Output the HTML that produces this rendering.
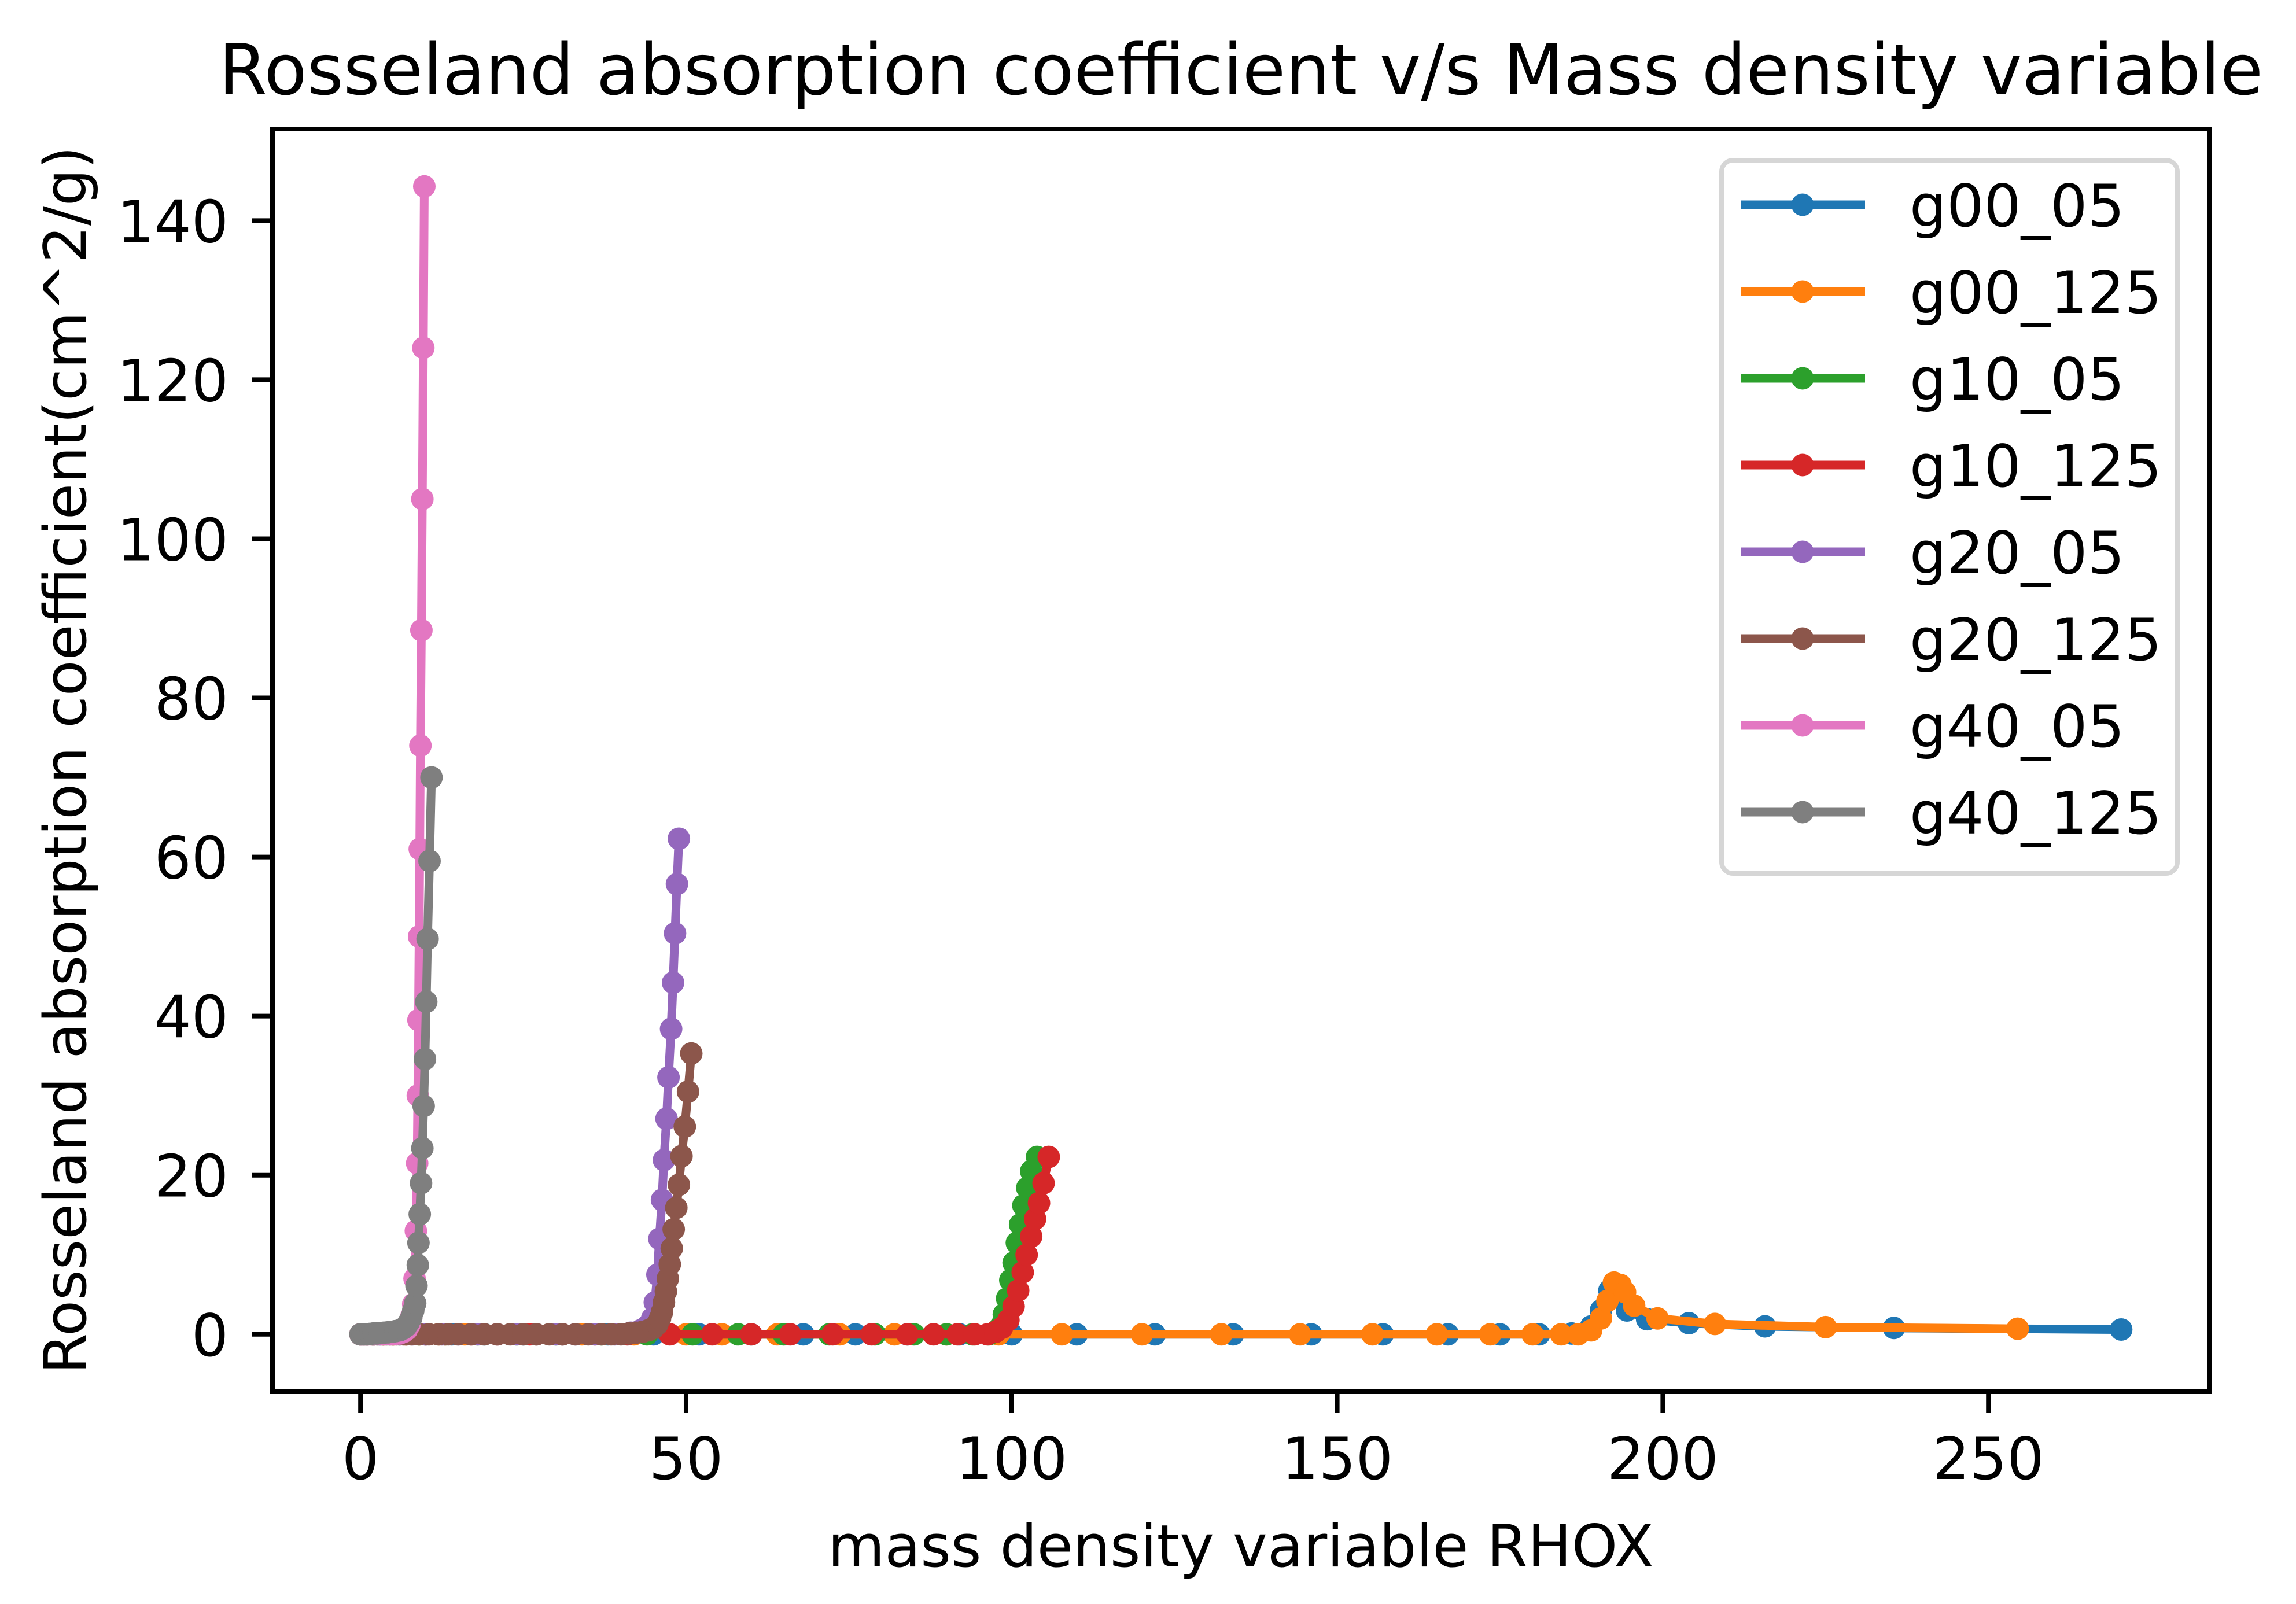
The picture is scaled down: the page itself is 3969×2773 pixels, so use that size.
<!DOCTYPE html>
<html><head><meta charset="utf-8"><style>
html,body{margin:0;padding:0;background:#fff}
svg{display:block}
text{font-family:"DejaVu Sans","Liberation Sans",sans-serif;fill:#000}
</style></head><body>
<svg id="chart" width="3969" height="2773" viewBox="0 0 3969 2773" xmlns="http://www.w3.org/2000/svg">
<rect x="0" y="0" width="3969" height="2773" fill="#fff"/>
<text x="2145" y="163" font-size="121" text-anchor="middle">Rosseland absorption coefficient v/s Mass density variable</text>
<text x="2145" y="2708" font-size="101" text-anchor="middle">mass density variable RHOX</text>
<text transform="translate(148,1314) rotate(-90)" font-size="101" text-anchor="middle">Rosseland absorption coefficient(cm^2/g)</text>
<defs><clipPath id="plotclip"><rect x="471" y="223" width="3348" height="2183"/></clipPath></defs>
<g id="xticks"></g>
<g id="yticks"></g>
<g id="series" clip-path="url(#plotclip)"></g>
<rect x="471" y="223" width="3348" height="2183" fill="none" stroke="#000" stroke-width="8"/>
<g id="legend"></g>
</svg>
<script>
const seriesNames = ["g00_05","g00_125","g10_05","g10_125","g20_05","g20_125","g40_05","g40_125"];
const seriesColors = ["#1f77b4","#ff7f0e","#2ca02c","#d62728","#9467bd","#8c564b","#e377c2","#7f7f7f"];
const xTicks = [0,50,100,150,200,250];
const yTicks = [0,20,40,60,80,100,120,140];

const g00_05_x = [0,0.5,1,2,3,5,7,10,14,19,25,31,38,45,52,60,68,76,84,92,100,110,122,134,146,157,167,175,181,186,189,190.5,191.8,193,194.5,197.6,204,215.7,235.5,270.4];
const g00_05_y = [0,0,0,0,0,0,0,0,0,0,0,0,0,0,0,0,0,0,0,0,0,0,0,0,0,0,0,0,0,0.1,1,3,5.5,6.2,3,1.9,1.4,1.0,0.8,0.6];
const g00_125_x = [0,0.5,1,2,3.5,5,7,9,12,16,21,27,34,42,50,55.5,64,73.6,82,90,98,107.7,120,132.2,144.3,155.4,165.3,173.5,180,184.4,187,189,190.5,191.5,192.5,193.5,194.2,195.6,199.2,208,225,254.5];
const g00_125_y = [0,0,0,0,0,0,0,0,0,0,0,0,0,0,0,0,0,0,0,0,0,0,0,0,0,0,0,0,0,0,0,0.5,2,4.2,6.5,6.2,5.3,3.6,2,1.3,0.9,0.7];
const g10_05_x = [0,1,2,4,6,9,13,18,24,30,37,44,51,58,65,72,79,85,90,94,96.5,97.5,98.3,98.8,99.3,99.8,100.3,100.8,101.3,101.8,102.4,103,103.9];
const g10_05_y = [0,0,0,0,0,0,0,0,0,0,0,0,0,0,0,0,0,0,0,0,0,0.3,1,2.5,4.5,6.8,9,11.5,13.8,16.2,18.4,20.5,22.3];
const g10_125_x = [0,1,2,3.5,5,7,10,13,17,21,26,31,36,41,47.5,54,60,66,72.5,78.5,84,88,91.7,94.3,96.3,97.5,98.5,99.5,100.3,101,101.7,102.3,103,103.6,104.2,104.9,105.7];
const g10_125_y = [0,0,0,0,0,0,0,0,0,0,0,0,0,0,0,0,0,0,0,0,0,0,0,0,0,0.3,0.8,1.8,3.5,5.5,7.8,10,12.3,14.5,16.5,19,22.3];
const g20_05_x = [0,0.5,1,2,3,4.5,6,8,10,12.5,15,18,21,24,27,30,33,36,39,41.5,43,44,44.8,45.2,45.6,45.9,46.3,46.6,47,47.3,47.7,48,48.3,48.6,48.9];
const g20_05_y = [0,0,0,0,0,0,0,0,0,0,0,0,0,0,0,0,0,0,0,0.2,0.5,1,2,4,7.5,12,16.9,21.9,27.1,32.3,38.4,44.2,50.4,56.6,62.3];
const g20_125_x = [0,0.5,1,1.8,2.6,3.5,4.5,5.5,6.6,7.8,9,10.5,12,13.5,15,17,19,21,23,25,27,29,31,33,35,37,38.5,40,41.2,42.3,43.3,44.2,45,45.6,46,46.3,46.6,46.9,47.2,47.5,47.8,48.1,48.5,48.9,49.3,49.8,50.3,50.8];
const g20_125_y = [0,0,0,0,0,0,0,0,0,0,0,0,0,0,0,0,0,0,0,0,0,0,0,0,0,0,0,0,0.1,0.2,0.3,0.5,0.8,1.3,2,2.8,4,5.4,7,8.8,10.8,13.2,15.9,18.8,22.4,26.1,30.5,35.3];
const g40_05_x = [0,0.3,0.6,1,1.5,2,2.6,3.2,3.9,4.6,5.3,6,6.6,7.1,7.5,7.8,8.1,8.3,8.5,8.7,8.8,8.9,9.0,9.1,9.2,9.35,9.5,9.65,9.8];
const g40_05_y = [0,0,0,0,0,0,0,0,0,0,0.05,0.1,0.3,0.6,1.2,2.2,3.8,7,13,21.5,30,39.5,50,61,74,88.5,105,124,144.3];
const g40_125_x = [0,0.3,0.6,1,1.5,2,2.5,3,3.6,4.2,4.8,5.4,6,6.5,7,7.4,7.8,8.1,8.4,8.6,8.8,8.9,9.1,9.3,9.5,9.7,9.9,10.1,10.3,10.6,10.9];
const g40_125_y = [0,0,0,0,0.05,0.1,0.1,0.15,0.2,0.25,0.3,0.4,0.5,0.7,1,1.5,2.1,3,3.9,6.1,8.7,11.5,15.1,19,23.4,28.7,34.6,41.8,49.7,59.5,70];

const seriesX = [g00_05_x,g00_125_x,g10_05_x,g10_125_x,g20_05_x,g20_125_x,g40_05_x,g40_125_x];
const seriesY = [g00_05_y,g00_125_y,g10_05_y,g10_125_y,g20_05_y,g20_125_y,g40_05_y,g40_125_y];

const NS = "http://www.w3.org/2000/svg";
const X0 = 471, X1 = 3819, Y0 = 2406, Y1 = 223;
let xmin = Infinity, xmax = -Infinity, ymin = Infinity, ymax = -Infinity;
seriesX.forEach(a => a.forEach(v => { xmin = Math.min(xmin, v); xmax = Math.max(xmax, v); }));
seriesY.forEach(a => a.forEach(v => { ymin = Math.min(ymin, v); ymax = Math.max(ymax, v); }));
const xm = (xmax - xmin) * 0.05, ym = (ymax - ymin) * 0.05;
const xLo = xmin - xm, xHi = xmax + xm, yLo = ymin - ym, yHi = ymax + ym;
function sx(v) { return X0 + (v - xLo) / (xHi - xLo) * (X1 - X0); }
function sy(v) { return Y0 - (v - yLo) / (yHi - yLo) * (Y0 - Y1); }
function mk(tag, attrs, parent) {
  const e = document.createElementNS(NS, tag);
  for (const k in attrs) e.setAttribute(k, attrs[k]);
  parent.appendChild(e);
  return e;
}

const xg = document.getElementById('xticks');
xTicks.forEach(t => {
  const l = mk('line', {x1: sx(t), x2: sx(t), y1: 2406, y2: 2442, stroke: '#000', 'stroke-width': 8}, xg);
  
  
  const tx = mk('text', {x: sx(t), y: 2557, 'font-size': 101, 'text-anchor': 'middle'}, xg);
  tx.textContent = String(t);
  
  
});
const yg = document.getElementById('yticks');
yTicks.forEach(t => {
  const l = mk('line', {x1: 435, x2: 471, y1: sy(t), y2: sy(t), stroke: '#000', 'stroke-width': 8}, yg);
  
  
  const tx = mk('text', {x: 395, y: sy(t) + 37, 'font-size': 101, 'text-anchor': 'end'}, yg);
  tx.textContent = String(t);
  
  
});

const sg = document.getElementById('series');
seriesNames.forEach((name, i) => {
  const g = mk('g', {}, sg);
  
  
  const xs = seriesX[i], ys = seriesY[i];
  const d = xs.map((v, j) => (j ? 'L' : 'M') + sx(v).toFixed(2) + ' ' + sy(ys[j]).toFixed(2)).join(' ');
  const p = mk('path', {d: d, fill: 'none', stroke: seriesColors[i], 'stroke-width': 15, 'stroke-linejoin': 'round', 'stroke-linecap': 'square'}, g);
  
  
  xs.forEach((v, j) => {
    const c = mk('circle', {cx: sx(v), cy: sy(ys[j]), r: 19.5, fill: seriesColors[i]}, g);
    
    
  });
});

const lg = document.getElementById('legend');
const lb = mk('rect', {x: 2976, y: 277, width: 788, height: 1233, rx: 20, fill: '#fff', 'fill-opacity': 0.8, stroke: '#d6d6d6', 'stroke-width': 8}, lg);


seriesNames.forEach((name, i) => {
  const y = 354 + i * 150;
  const g = mk('g', {}, lg);
  
  
  mk('line', {x1: 3009, x2: 3224, y1: y, y2: y, stroke: seriesColors[i], 'stroke-width': 15}, g);
  mk('circle', {cx: 3116, cy: y, r: 19.5, fill: seriesColors[i]}, g);
  const t = mk('text', {x: 3301, y: y + 37, 'font-size': 101}, g);
  t.textContent = name;
  
  
});
</script>
</body></html>
